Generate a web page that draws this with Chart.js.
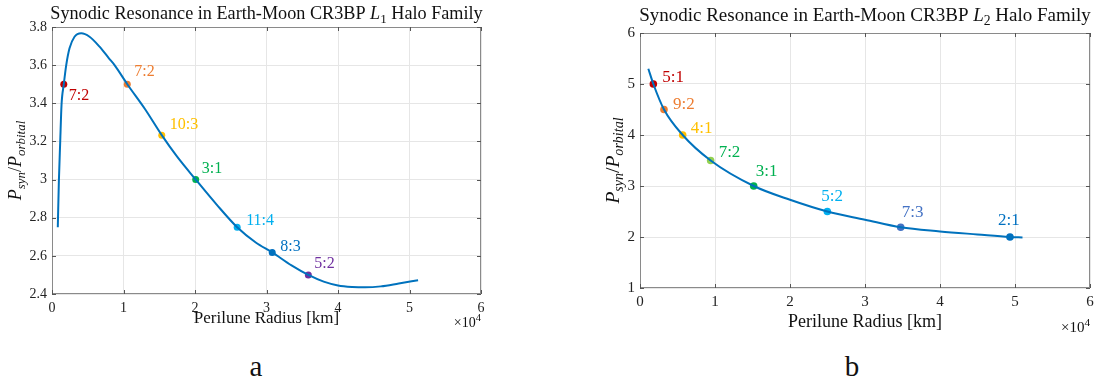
<!DOCTYPE html>
<html>
<head>
<meta charset="utf-8">
<script src="https://cdn.jsdelivr.net/npm/chart.js@4.4.1/dist/chart.umd.min.js"></script>
<style>
body { margin: 0; background: #fff; width: 1099px; height: 388px; position: relative; overflow: hidden; }
.box { position: absolute; top: 0; height: 345px; }
.cap { position: absolute; top: 350px; font-family: "Liberation Serif", serif; font-size: 29px; color: #111; transform: translateX(-50%); }
</style>
</head>
<body>
<div class="box" style="left:0;width:540px"><canvas id="chartL1"></canvas></div>
<div class="box" style="left:560px;width:539px"><canvas id="chartL2"></canvas></div>
<div class="cap" style="left:256px">a</div>
<div class="cap" style="left:852px">b</div>
<script>
// L1 halo family curve, perilune radius [km] vs Psyn/Porbital
var l1Radius = [810, 960, 1150, 1330, 1650, 1990, 2450, 3150, 4090, 5250, 6650, 7960, 8750, 10530, 13000, 15350, 17500, 20100, 23000, 25900, 28500, 30800, 33500, 35850, 38000, 40000, 42000, 43800, 46000, 48500, 51200];
var l1Ratio = [2.75, 2.99, 3.2, 3.39, 3.5, 3.6, 3.688, 3.749, 3.767, 3.749, 3.697, 3.636, 3.6, 3.5, 3.37, 3.233, 3.12, 3.0, 2.87, 2.75, 2.67, 2.618, 2.55, 2.5, 2.465, 2.445, 2.437, 2.435, 2.44, 2.455, 2.472];
// L1 resonances
var l1ResNames = ['7:2', '7:2', '10:3', '3:1', '11:4', '8:3', '5:2'];
var l1ResRadius = [1650, 10530, 15350, 20100, 25900, 30800, 35850];
var l1ResRatio = [3.5, 3.5, 3.233, 3.0, 2.75, 2.618, 2.5];

// L2 halo family curve
var l2Radius = [1110, 1780, 3200, 5690, 9420, 15160, 20000, 24980, 30000, 34760, 40000, 45000, 49330, 51000];
var l2Ratio = [5.3, 5.0, 4.5, 4.0, 3.5, 3.0, 2.73, 2.5, 2.34, 2.19, 2.11, 2.05, 2.0, 1.99];
// L2 resonances
var l2ResNames = ['5:1', '9:2', '4:1', '7:2', '3:1', '5:2', '7:3', '2:1'];
var l2ResRadius = [1780, 3200, 5690, 9420, 15160, 24980, 34760, 49330];
var l2ResRatio = [5.0, 4.5, 4.0, 3.5, 3.0, 2.5, 2.19, 2.0];

var xTicks = [0, 1, 2, 3, 4, 5, 6];

// styles
var l1PointColors = ['#C00000', '#ED7D31', '#FFC000', '#00B050', '#00B0F0', '#0070C0', '#7030A0'];
var l1TextColors = l1PointColors;
var l1LabelOffsets = [[5, 12], [7, -12], [8, -10], [6, -11], [9, -6], [8, -6], [6, -11]];
var l2PointColors = ['#C00000', '#ED7D31', '#FFC000', '#92D050', '#00B050', '#00B0F0', '#4472C4', '#0070C0'];
var l2TextColors = ['#C00000', '#ED7D31', '#FFC000', '#00B050', '#00B050', '#00B0F0', '#4472C4', '#0070C0'];
var l2LabelOffsets = [[9, -6], [9, -5], [8, -6], [8, -8], [2, -14], [-6, -15], [1, -15], [-12, -16]];

var FONT = '"Liberation Serif", serif';

function richText(ctx, parts, x, y, size) {
    var fonts = parts.map(function (p) {
        return (p[1] ? 'italic ' : '') + (p[2] ? size * 0.72 : size) + 'px ' + FONT;
    });
    var w = 0;
    parts.forEach(function (p, i) { ctx.font = fonts[i]; w += ctx.measureText(p[0]).width; });
    var cx = x - w / 2;
    ctx.textAlign = 'left';
    ctx.textBaseline = 'alphabetic';
    parts.forEach(function (p, i) {
        ctx.font = fonts[i];
        var dy = p[2] === 1 ? size * 0.22 : 0;
        ctx.fillText(p[0], cx, y + dy);
        cx += ctx.measureText(p[0]).width;
    });
}

function makeChart(id, cfg) {
    var decor = {
        id: 'decor',
        afterDraw: function (chart) {
            var ctx = chart.ctx, a = chart.chartArea;
            var xs = chart.scales.x, ys = chart.scales.y;
            ctx.save();
            // box and inner ticks
            ctx.strokeStyle = '#8a8a8a';
            ctx.lineWidth = 1;
            ctx.strokeRect(a.left + 0.5, a.top + 0.5, a.right - a.left - 1, a.bottom - a.top - 1);
            ctx.strokeStyle = '#555';
            ctx.beginPath();
            xs.ticks.forEach(function (t) {
                var px = Math.round(xs.getPixelForValue(t.value)) + 0.5;
                ctx.moveTo(px, a.bottom); ctx.lineTo(px, a.bottom - 4);
                ctx.moveTo(px, a.top); ctx.lineTo(px, a.top + 4);
            });
            ys.ticks.forEach(function (t) {
                var py = Math.round(ys.getPixelForValue(t.value)) + 0.5;
                ctx.moveTo(a.left, py); ctx.lineTo(a.left + 4, py);
                ctx.moveTo(a.right, py); ctx.lineTo(a.right - 4, py);
            });
            ctx.stroke();
            // resonance labels
            var meta = chart.getDatasetMeta(1);
            ctx.font = cfg.labelSize + 'px ' + FONT;
            ctx.textAlign = 'left';
            ctx.textBaseline = 'middle';
            meta.data.forEach(function (pt, i) {
                ctx.fillStyle = cfg.textColors[i];
                ctx.fillText(cfg.names[i], pt.x + cfg.offsets[i][0], pt.y + cfg.offsets[i][1]);
            });
            // titles
            ctx.fillStyle = '#111';
            var cxm = (a.left + a.right) / 2;
            richText(ctx, [['Synodic Resonance in Earth-Moon CR3BP ', 0, 0], ['L', 1, 0], [cfg.lp, 0, 1], [' Halo Family', 0, 0]], cxm, cfg.titleY, cfg.titleSize);
            richText(ctx, [['Perilune Radius [km]', 0, 0]], cxm, cfg.xTitleY, cfg.axisSize);
            ctx.save();
            ctx.translate(cfg.yTitleX, (a.top + a.bottom) / 2);
            ctx.rotate(-Math.PI / 2);
            richText(ctx, [['P', 1, 0], ['syn', 1, 1], ['/', 0, 0], ['P', 1, 0], ['orbital', 1, 1]], 0, 0, cfg.yTitleSize);
            ctx.restore();
            // x10^4 multiplier
            ctx.font = cfg.tickSize + 'px ' + FONT;
            ctx.textAlign = 'right';
            ctx.textBaseline = 'alphabetic';
            var sw = ctx.measureText('4').width * 0.75;
            ctx.fillText('\u00d710', a.right - sw, cfg.expY);
            ctx.font = (cfg.tickSize * 0.75) + 'px ' + FONT;
            ctx.fillText('4', a.right, cfg.expY - cfg.tickSize * 0.42);
            ctx.restore();
        }
    };

    return new Chart(document.getElementById(id).getContext('2d'), {
        type: 'scatter',
        data: {
            datasets: [{
                label: 'curve',
                data: cfg.xs.map(function (x, i) { return { x: x, y: cfg.ys[i] }; }),
                showLine: true,
                borderColor: '#0072BD',
                borderWidth: 2,
                pointRadius: 0,
                cubicInterpolationMode: 'monotone'
            }, {
                label: 'resonances',
                data: cfg.rx.map(function (x, i) { return { x: x, y: cfg.ry[i] }; }),
                pointRadius: cfg.pointR,
                pointBackgroundColor: cfg.pointColors,
                pointBorderWidth: 0,
                showLine: false
            }]
        },
        options: {
            responsive: true,
            maintainAspectRatio: false,
            animation: false,
            events: [],
            layout: { padding: cfg.padding },
            plugins: { legend: { display: false }, tooltip: { enabled: false } },
            scales: {
                x: {
                    type: 'linear', min: 0, max: 60000,
                    afterBuildTicks: function (s) { s.ticks = xTicks.map(function (v) { return { value: v * 10000 }; }); },
                    afterFit: function (s) { s.height = 30; },
                    grid: { color: '#e6e6e6', drawTicks: false },
                    border: { display: false },
                    ticks: {
                        padding: cfg.xTickPad, color: '#222',
                        font: { family: FONT, size: cfg.tickSize },
                        callback: function (v) { return String(v / 10000); }
                    }
                },
                y: {
                    type: 'linear', min: cfg.yMin, max: cfg.yMax,
                    ticks: {
                        stepSize: cfg.yStep, padding: 5, color: '#222',
                        font: { family: FONT, size: cfg.tickSize },
                        callback: function (v) { return String(+v.toFixed(1)); }
                    },
                    afterFit: function (s) { s.width = 40; },
                    grid: { color: '#e6e6e6', drawTicks: false },
                    border: { display: false }
                }
            }
        },
        plugins: [decor]
    });
}

makeChart('chartL1', {
    xs: l1Radius, ys: l1Ratio, rx: l1ResRadius, ry: l1ResRatio,
    names: l1ResNames, pointColors: l1PointColors, textColors: l1TextColors, offsets: l1LabelOffsets,
    lp: '1', yMin: 2.4, yMax: 3.8, yStep: 0.2,
    padding: { left: 12, right: 59, top: 27, bottom: 21 },
    tickSize: 14, labelSize: 16, titleSize: 18.2, axisSize: 17, yTitleSize: 18, pointR: 3.5, xTickPad: 6,
    titleY: 19, xTitleY: 323, yTitleX: 21, expY: 327
});

makeChart('chartL2', {
    xs: l2Radius, ys: l2Ratio, rx: l2ResRadius, ry: l2ResRatio,
    names: l2ResNames, pointColors: l2PointColors, textColors: l2TextColors, offsets: l2LabelOffsets,
    lp: '2', yMin: 1, yMax: 6, yStep: 1,
    padding: { left: 40, right: 9, top: 33, bottom: 27 },
    tickSize: 15, labelSize: 17, titleSize: 19, axisSize: 18, yTitleSize: 19.5, pointR: 3.8, xTickPad: 5,
    titleY: 21, xTitleY: 327, yTitleX: 59, expY: 332
});
</script>
</body>
</html>
